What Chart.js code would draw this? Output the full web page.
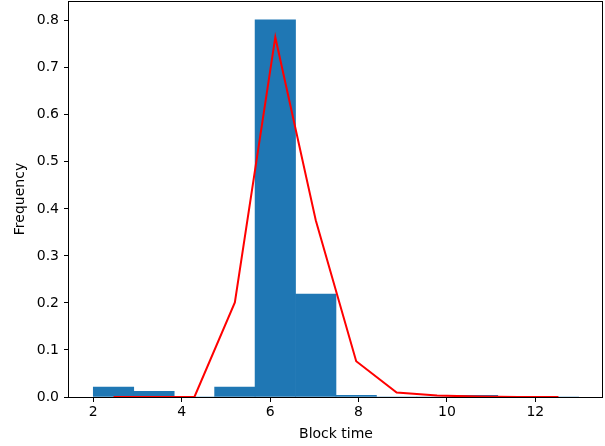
<!DOCTYPE html>
<html>
<head>
<meta charset="utf-8">
<script src="https://cdn.jsdelivr.net/npm/chart.js@4"></script>
<style>
html,body{margin:0;padding:0;background:#fff;}
canvas{display:block;}
</style>
</head>
<body>
<canvas id="c" width="605" height="446"></canvas>
<script>
// Histogram bin centers (12 bins from 2.0 to 12.98, width 0.915)
const binCenters = [2.457, 3.372, 4.287, 5.202, 6.117, 7.032, 7.947, 8.862, 9.777, 10.692, 11.607, 12.522];
// Histogram densities (bars)
const barValues = [0.021, 0.012, 0, 0.021, 0.802, 0.219, 0.0035, 0, 0, 0.0035, 0, 0];
// Red line values at bin centers
const lineValues = [0, 0, 0, 0.201, 0.765, 0.376, 0.076, 0.0095, 0.003, 0.001, 0, 0];
// Tick labels
const xTicks = [2, 4, 6, 8, 10, 12];
const yTicks = [0, 0.1, 0.2, 0.3, 0.4, 0.5, 0.6, 0.7, 0.8];

const FONT = "'DejaVu Sans', sans-serif";

const spines = {
  id: 'spines',
  afterDatasetsDraw(chart) {
    const {ctx, chartArea: a} = chart;
    ctx.save();
    ctx.strokeStyle = '#000';
    ctx.lineWidth = 1;
    ctx.strokeRect(Math.round(a.left) - 0.5, Math.round(a.top) + 0.5, Math.round(a.right - a.left), Math.round(a.bottom - a.top));
    ctx.restore();
  }
};

new Chart(document.getElementById('c'), {
  data: {
    datasets: [
      {
        type: 'line',
        data: binCenters.map((x, i) => ({x, y: lineValues[i]})),
        borderColor: '#ff0000',
        borderWidth: 2,
        pointRadius: 0,
        fill: false,
        tension: 0,
        order: 0
      },
      {
        type: 'bar',
        data: binCenters.map((x, i) => ({x, y: barValues[i]})),
        backgroundColor: '#1f77b4',
        borderWidth: 0,
        barPercentage: 1,
        categoryPercentage: 1,
        order: 1
      }
    ]
  },
  options: {
    responsive: false,
    animation: false,
    devicePixelRatio: 1,
    layout: {padding: {top: 1, right: 2, left: 0, bottom: 0}},
    plugins: {legend: {display: false}, tooltip: {enabled: false}},
    scales: {
      x: {
        type: 'linear',
        min: 1.45,
        max: 13.53,
        offset: false,
        afterFit(s) { s.height = 49; s.paddingLeft = 0; s.paddingRight = 0; },
        afterBuildTicks(s) { s.ticks = xTicks.map(v => ({value: v})); },
        grid: {display: true, offset: false, drawOnChartArea: false, drawTicks: true, tickLength: 5, color: '#000', lineWidth: 1},
        border: {display: false},
        ticks: {color: '#000', font: {family: FONT, size: 14}, padding: 2, maxRotation: 0, autoSkip: false, callback: v => String(v)},
        title: {display: true, text: 'Block time', color: '#000', font: {family: FONT, size: 14}, padding: {top: 0, bottom: 3.6}}
      },
      y: {
        type: 'linear',
        min: 0,
        max: 0.842,
        afterFit(s) { s.width = 69; s.paddingTop = 0; s.paddingBottom = 0; },
        afterBuildTicks(s) { s.ticks = yTicks.map(v => ({value: v})); },
        grid: {display: true, offset: false, drawOnChartArea: false, drawTicks: true, tickLength: 5, color: '#000', lineWidth: 1},
        border: {display: false},
        ticks: {color: '#000', font: {family: FONT, size: 14}, padding: 5, autoSkip: false, callback: v => v.toFixed(1)},
        title: {display: true, text: 'Frequency', color: '#000', font: {family: FONT, size: 14}, padding: {top: 11.6, bottom: 0}}
      }
    }
  },
  plugins: [spines]
});
</script>
</body>
</html>
